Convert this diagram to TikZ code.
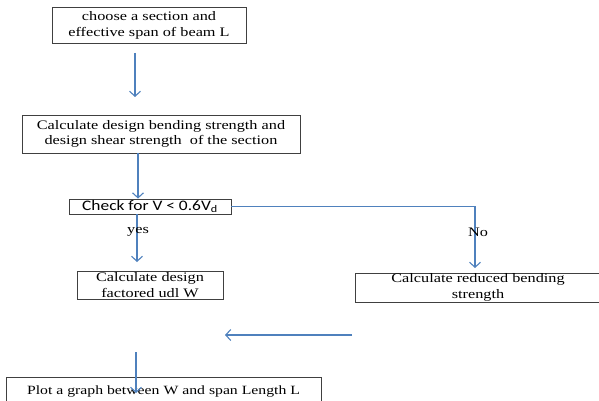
\documentclass[tikz,border=0pt]{standalone}
\usepackage{fontspec}
\setmainfont{Liberation Serif}[FakeStretch=1.25]
\newfontfamily\chkfont{Carlito}[FakeStretch=1.2]
\usetikzlibrary{arrows.meta}
\definecolor{arrblue}{HTML}{4F81BD}
\definecolor{boxline}{HTML}{404040}
\tikzset{
  box/.style={draw=boxline, line width=0.9pt, align=center, inner sep=0pt, font=\fontsize{13}{15.5}\selectfont},
  arr/.style={draw=arrblue, line width=1.1pt, -{Straight Barb[length=5pt,width=11pt,line width=1.1pt]}},
  conn/.style={draw=arrblue, line width=1.1pt},
  lbl/.style={inner sep=0pt, font=\fontsize{13}{15.5}\selectfont}
}
\begin{document}
\begin{tikzpicture}[x=1pt,y=-1pt]
\useasboundingbox (0,0) rectangle (599,401);
\node[box, minimum width=194pt, minimum height=36pt] (b1) at (149,25.5) {choose a section and\\effective span of beam L};
\node[box, minimum width=278pt, minimum height=38pt] (b2) at (161,134) {Calculate design bending strength and\\design shear strength\ \ of the section};
\node[box, minimum width=162pt, minimum height=15pt, font=\chkfont\fontsize{14.5}{15}\selectfont] (chk) at (150,206.5) {Check for V < 0.6V\textsubscript{d}};
\node[box, minimum width=146pt, minimum height=28pt] (yb) at (150,285) {Calculate design\\factored udl W};
\node[box, minimum width=246pt, minimum height=29pt] (nb) at (478,287.5) {Calculate reduced bending\\strength};
\node[box, minimum width=315pt, minimum height=34pt, anchor=north, text depth=0pt, font=\fontsize{12.6}{15}\selectfont] (pb) at (163.5,377) {\raisebox{9pt}{Plot a graph between W and span Length L}};
% coordinates
\coordinate (a1s) at (135,53);
\coordinate (a1e) at (135,97);
\coordinate (x2) at (138,0);
\coordinate (x3) at (137,0);
\coordinate (yesend) at (137,262);
\coordinate (corner) at (475,206.5);
\coordinate (noend) at (475,268);
\coordinate (ls) at (352,335);
\coordinate (le) at (225,335);
\coordinate (ds) at (136,352);
\coordinate (de) at (136,393);
% connectors
\draw[arr] (a1s) -- (a1e);
\draw[arr] (b2.south -| x2) -- (chk.north -| x2);
\draw[arr] (chk.south -| x3) -- (yesend);
\draw[arr] (chk.east) -- (corner) -- (noend);
\draw[arr] (ls) -- (le);
\draw[arr] (ds) -- (de);
\node[lbl] (yes) at (138,232) {yes};
\node[lbl] (no) at (478,232) {No};
\end{tikzpicture}
\end{document}
